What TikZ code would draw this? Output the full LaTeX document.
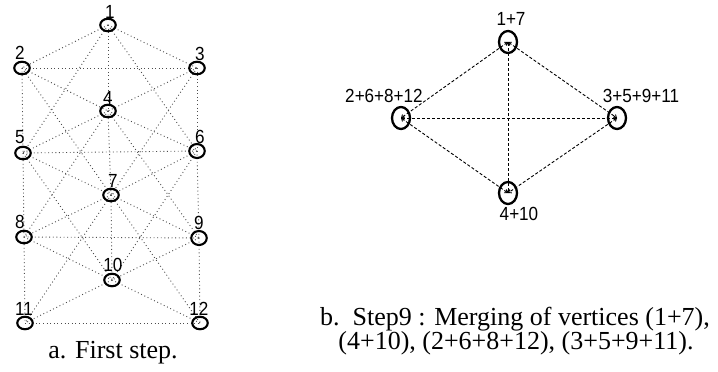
\documentclass[tikz,border=0pt]{standalone}
\usepackage{fontspec}
\setmainfont{Liberation Serif}
\newfontfamily\labfont[FakeStretch=0.9]{Liberation Sans}
\usetikzlibrary{arrows.meta,shapes.geometric,backgrounds}
\begin{document}
\begin{tikzpicture}[x=1pt,y=-1pt,
  vtx/.style={ellipse, draw=black, line width=2.1pt, minimum width=15.5pt, minimum height=12.5pt, inner sep=0pt},
  bigvtx/.style={ellipse, draw=black, line width=2.3pt, minimum width=18pt, minimum height=22pt, inner sep=0pt},
  lbl/.style={font=\labfont\fontsize{19}{19}\selectfont, inner sep=0pt},
  dotedge/.style={black!70, line width=0.9pt, dash pattern=on 0.9pt off 2.7pt},
  dashedge/.style={black, line width=0.9pt, dash pattern=on 3pt off 2pt, {Straight Barb[length=2.5pt,width=4pt]}-{Straight Barb[length=2.5pt,width=4pt]}},
  captext/.style={font=\fontsize{26}{26}\selectfont, inner sep=0pt, anchor=base}]
\useasboundingbox (0,0) rectangle (718,372);
% left graph vertices
\node[vtx] (n1) at (108,25) {};
\node[vtx] (n2) at (22,68) {};
\node[vtx] (n3) at (197,68) {};
\node[vtx] (n4) at (108,111) {};
\node[vtx] (n5) at (23,153) {};
\node[vtx, minimum height=14pt] (n6) at (197,151) {};
\node[vtx] (n7) at (111,195) {};
\node[vtx] (n8) at (24,237) {};
\node[vtx, minimum height=14pt] (n9) at (199,238) {};
\node[vtx] (n10) at (112,280) {};
\node[vtx] (n11) at (25,323) {};
\node[vtx] (n12) at (200,323) {};
% left labels
\node[lbl] (l1) at (110,12) {1};
\node[lbl] (l2) at (20,53) {2};
\node[lbl] (l3) at (200,54) {3};
\node[lbl] (l4) at (108,98) {4};
\node[lbl] (l5) at (20,137) {5};
\node[lbl] (l6) at (200,137) {6};
\node[lbl] (l7) at (113,181) {7};
\node[lbl] (l8) at (20,222) {8};
\node[lbl] (l9) at (199,223) {9};
\node[lbl] (l10) at (113,265) {10};
\node[lbl] (l11) at (24,309) {11};
\node[lbl] (l12) at (199,309) {12};
\begin{pgfonlayer}{background}
\foreach \a/\b in {1/2,1/3,1/4,1/5,1/6,
  2/3,2/4,2/5,2/7,
  3/4,3/6,3/7,
  4/5,4/6,4/7,4/8,4/9,
  5/6,5/7,5/8,5/10,
  6/7,6/9,6/10,
  7/8,7/9,7/10,7/11,7/12,
  8/9,8/10,8/11,
  9/10,9/12,
  10/11,10/12,
  11/12}
  \draw[dotedge] (n\a.center) -- (n\b.center);
\end{pgfonlayer}
% right graph
\node[bigvtx] (m17) at (508,42) {};
\node[bigvtx] (m2) at (401,118) {};
\node[bigvtx] (m3) at (617,118) {};
\node[bigvtx] (m4) at (508,193) {};
\node[lbl] (lm17) at (511,19) {1+7};
\node[lbl] (lm2) at (384,96) {2+6+8+12};
\node[lbl] (lm3) at (641,96) {3+5+9+11};
\node[lbl] (lm4) at (519,214) {4+10};
\begin{pgfonlayer}{background}
\foreach \a/\b in {m17/m2,m17/m3,m17/m4,m2/m3,m2/m4,m3/m4}
  \draw[dashedge] (\a.center) -- (\b.center);
\end{pgfonlayer}
% captions
\node[captext] (capa) at (113,358) {a. First step.};
\node[captext] (capb1) at (515,325) {b.\ \ Step9 : Merging of vertices (1+7),};
\node[captext] (capb2) at (516,349) {(4+10), (2+6+8+12), (3+5+9+11).};
\end{tikzpicture}
\end{document}
